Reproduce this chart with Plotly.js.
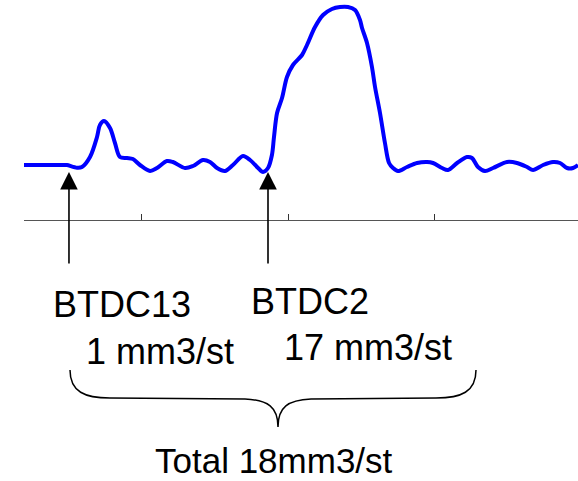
<!DOCTYPE html>
<html>
<head>
<meta charset="utf-8">
<script src="https://cdn.plot.ly/plotly-3.0.1.min.js"></script>
<style>html,body{margin:0;padding:0;background:#fff;}#chart{width:578px;height:481px;}</style>
</head>
<body>
<div id="chart"></div>
<script>
// Waveform (arbitrary units: tick spacing = 1 on x)
const waveX = [0.192,0.473,0.486,0.555,0.589,0.644,0.692,0.712,0.740,0.781,0.815,0.849,0.897,0.938,0.986,
  1.055,1.103,1.171,1.212,1.295,1.349,1.418,1.466,1.514,1.568,1.623,1.692,1.740,1.795,1.829,1.863,1.890,1.904,1.925,1.959,1.993,
  2.034,2.096,2.130,2.185,2.240,2.301,2.356,2.411,2.459,2.493,2.507,2.541,2.575,2.596,2.630,2.664,2.692,2.719,2.753,2.815,2.884,2.952,2.993,
  3.055,3.096,3.158,3.226,3.260,3.301,3.349,3.404,3.500,3.568,3.637,3.678,3.747,3.815,3.863,3.911,3.952,3.986];
const waveY = [5.0,5.0,5.0,4.73,4.8,5.8,7.8,9.0,9.4,8.7,7.2,5.8,5.7,5.6,5.0,
  4.4,4.7,5.4,5.3,4.7,4.9,5.5,5.3,4.7,4.4,5.0,5.9,5.5,4.7,4.3,4.7,6.0,7.8,10.2,11.7,13.8,
  15.0,16.0,17.0,18.8,20.0,20.6,20.8,20.8,20.5,19.5,18.7,17.2,14.8,12.8,10.2,7.2,5.2,4.7,4.4,4.8,5.2,5.3,5.2,
  4.7,4.5,5.2,5.8,5.7,4.8,4.4,4.7,5.3,5.2,4.8,4.5,5.0,5.3,5.2,4.7,4.7,5.0];
const tickVals = [1, 2, 3];
const injX = [0.5, 1.863];
const injLabels = ["BTDC13", "BTDC2"];
const qtyLabels = ["1 mm3/st", "17 mm3/st"];
const totalLabel = "Total 18mm3/st";

const W = 578, H = 481;
const px = v => v / W, py = v => 1 - v / H;
const FONT = '"Liberation Sans", Arial, sans-serif';

const annotations = [];
injX.forEach(x => annotations.push({
  x: x, y: 4.3, xref: 'x', yref: 'y', text: '', showarrow: true,
  ax: 0, ay: 93, arrowhead: 2, arrowsize: 2.2, arrowwidth: 1.6, arrowcolor: '#000', standoff: 0
}));
const textPos = [
  [injLabels[0], 122, 304, 36], [injLabels[1], 310, 301, 36],
  [qtyLabels[0], 160, 351, 36], [qtyLabels[1], 368, 347, 36],
  [totalLabel, 274, 460, 35]
];
textPos.forEach(t => annotations.push({
  x: px(t[1]), y: py(t[2]), xref: 'paper', yref: 'paper', text: t[0], showarrow: false,
  xanchor: 'center', yanchor: 'middle', borderpad: 0, font: {family: FONT, size: t[3], color: '#000'}
}));

function P(x, y) { return px(x).toFixed(5) + ',' + py(y).toFixed(5); }
const brace = 'M' + P(70,370) + ' C' + P(70,392) + ' ' + P(85,398) + ' ' + P(110,398) +
  ' L' + P(245,399) + ' C' + P(268,400) + ' ' + P(278,407) + ' ' + P(278,427) +
  ' C' + P(278,407) + ' ' + P(288,400) + ' ' + P(311,399) +
  ' L' + P(436,398) + ' C' + P(461,398) + ' ' + P(476,392) + ' ' + P(476,370);

Plotly.newPlot('chart', [{
  x: waveX, y: waveY, type: 'scatter', mode: 'lines',
  line: {color: '#0000ff', width: 4, shape: 'spline', smoothing: 0.9},
  hoverinfo: 'skip'
}], {
  width: W, height: H,
  margin: {l: 0, r: 0, t: 0, b: 0},
  paper_bgcolor: '#fff', plot_bgcolor: '#fff',
  showlegend: false,
  xaxis: {domain: [24 / W, 1], range: [0.192, 3.986], showline: true, linecolor: '#555', linewidth: 1,
    ticks: 'inside', ticklen: 6, tickcolor: '#333', tickwidth: 1, tickvals: tickVals,
    showticklabels: false, showgrid: false, zeroline: false, fixedrange: true},
  yaxis: {domain: [1 - 220 / H, 1], range: [-0.5, 21.5], visible: false, fixedrange: true},
  annotations: annotations,
  shapes: [{type: 'path', xref: 'paper', yref: 'paper', path: brace, line: {color: '#000', width: 1.5}}]
}, {displayModeBar: false, staticPlot: true});
</script>
</body>
</html>
